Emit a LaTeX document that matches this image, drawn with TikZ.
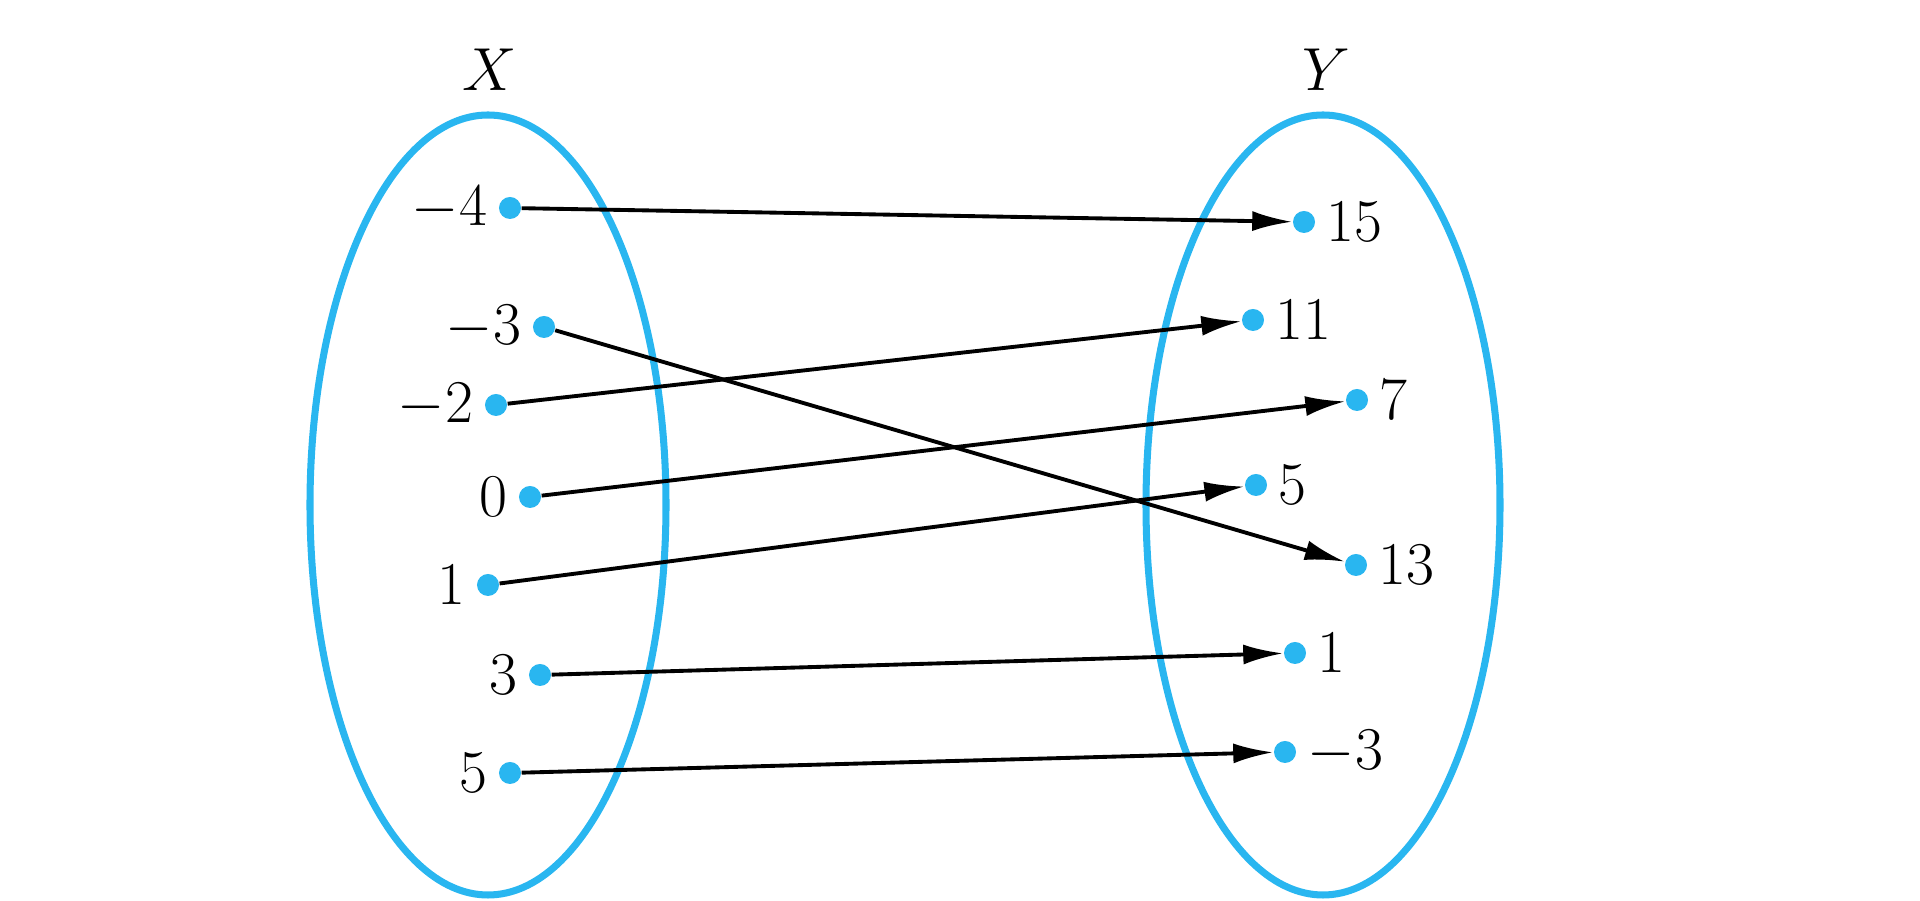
\documentclass[tikz,border=0pt]{standalone}
\usetikzlibrary{arrows.meta}
\definecolor{sky}{RGB}{41,182,240}
\begin{document}
\begin{tikzpicture}[x=0.01cm,y=-0.01cm,
  dot/.style={circle,fill=sky,inner sep=0pt,minimum size=0.22cm},
  lab/.style={font=\fontsize{19}{22}\selectfont,inner sep=3pt},
  arr/.style={-{Latex[length=0.4cm,width=0.2cm]},line width=1.1pt},
  set/.style={draw=sky,line width=2pt}]
\useasboundingbox (0,0) rectangle (1920,901);
\draw[set] (488,505) ellipse [x radius=178,y radius=390];
\draw[set] (1323,505) ellipse [x radius=177,y radius=390];
\node[lab] (X) at (490,70) {$X$};
\node[lab] (Y) at (1326,70) {$Y$};
% left
\node[dot] (a1) at (510,208) {}; \node[lab,anchor=east] (la1) at (a1.west) {$-4$};
\node[dot] (a2) at (544,327) {}; \node[lab,anchor=east] (la2) at (a2.west) {$-3$};
\node[dot] (a3) at (496,405) {}; \node[lab,anchor=east] (la3) at (a3.west) {$-2$};
\node[dot] (a4) at (530,497) {}; \node[lab,anchor=east] (la4) at (a4.west) {$0$};
\node[dot] (a5) at (488,585) {}; \node[lab,anchor=east] (la5) at (a5.west) {$1$};
\node[dot] (a6) at (540,675) {}; \node[lab,anchor=east] (la6) at (a6.west) {$3$};
\node[dot] (a7) at (510,773) {}; \node[lab,anchor=east] (la7) at (a7.west) {$5$};
% right
\node[dot] (b1) at (1304,222) {}; \node[lab,anchor=west] (lb1) at (b1.east) {$15$};
\node[dot] (b2) at (1253,320) {}; \node[lab,anchor=west] (lb2) at (b2.east) {$11$};
\node[dot] (b3) at (1357,400) {}; \node[lab,anchor=west] (lb3) at (b3.east) {$7$};
\node[dot] (b4) at (1256,485) {}; \node[lab,anchor=west] (lb4) at (b4.east) {$5$};
\node[dot] (b5) at (1356,565) {}; \node[lab,anchor=west] (lb5) at (b5.east) {$13$};
\node[dot] (b6) at (1295,653) {}; \node[lab,anchor=west] (lb6) at (b6.east) {$1$};
\node[dot] (b7) at (1285,752) {}; \node[lab,anchor=west] (lb7) at (b7.east) {$-3$};
\draw[arr] (a1) -- (b1);
\draw[arr] (a2) -- (b5);
\draw[arr] (a3) -- (b2);
\draw[arr] (a4) -- (b3);
\draw[arr] (a5) -- (b4);
\draw[arr] (a6) -- (b6);
\draw[arr] (a7) -- (b7);
\end{tikzpicture}
\end{document}
